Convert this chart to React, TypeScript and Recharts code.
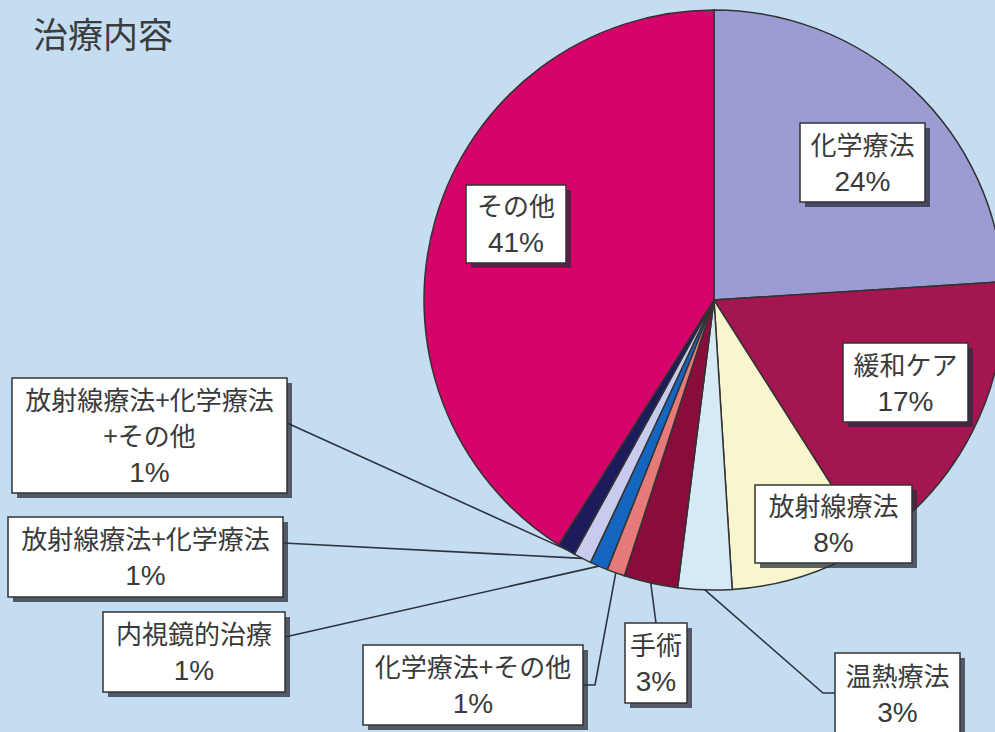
import { PieChart, Pie, Cell } from "recharts";

const names = [
  "化学療法",
  "緩和ケア",
  "放射線療法",
  "温熱療法",
  "手術",
  "化学療法+その他",
  "内視鏡的治療",
  "放射線療法+化学療法",
  "放射線療法+化学療法+その他",
  "その他",
];
const values = [24, 17, 8, 3, 3, 1, 1, 1, 1, 41];
const colors = [
  "#9a9cd3",
  "#a3164f",
  "#f8f6cf",
  "#d6eaf6",
  "#8a0c3d",
  "#e67a78",
  "#1466c0",
  "#c9cbee",
  "#1c1c5c",
  "#d6046a",
];

// label boxes: where each box sits and how its leader runs (page px)
const boxes = [
  { x: 800, y: 123, w: 125, h: 79, split: 0, leader: [] as number[][] },
  { x: 843, y: 343, w: 125, h: 79, split: 0, leader: [] },
  { x: 755, y: 485, w: 157, h: 78, split: 0, leader: [] },
  { x: 835, y: 653, w: 125, h: 82, split: 0, leader: [[823, 693], [835, 693]] },
  { x: 625, y: 623, w: 62, h: 80, split: 0, leader: [[656, 623]] },
  { x: 363, y: 645, w: 220, h: 80, split: 0, leader: [[595, 685], [583, 685]] },
  { x: 103, y: 612, w: 182, h: 80, split: 0, leader: [[285, 637]] },
  { x: 8, y: 517, w: 275, h: 80, split: 0, leader: [[283, 543]] },
  { x: 12, y: 378, w: 275, h: 115, split: 10, leader: [[287, 423]] },
  { x: 466, y: 185, w: 100, h: 78, split: 0, leader: [] },
];

const data = names.map((name, i) => ({ name, value: values[i] }));

const RADIAN = Math.PI / 180;
const FONT = "'Noto Sans CJK JP', 'Noto Sans', sans-serif";
const NUM_FONT = "'Liberation Sans', 'Noto Sans CJK JP', sans-serif";

function renderLabel(props: any) {
  const { cx, cy, midAngle, outerRadius, index } = props;
  const b = boxes[index];
  const name = names[index];
  const lines =
    b.split > 0 ? [name.slice(0, b.split), name.slice(b.split), `${values[index]}%`] : [name, `${values[index]}%`];
  const ax = cx + outerRadius * Math.cos(-midAngle * RADIAN);
  const ay = cy + outerRadius * Math.sin(-midAngle * RADIAN);
  const pts = b.leader.length ? [[ax, ay], ...b.leader] : [];
  const first = b.y + (b.h - lines.length * 36) / 2 + 28;
  return (
    <g key={`lab-${index}`}>
      {pts.length > 0 && (
        <polyline
          points={pts.map((p) => p.join(",")).join(" ")}
          fill="none"
          stroke="#2c3440"
          strokeWidth={1.6}
        />
      )}
      <rect x={b.x + 5} y={b.y + 5} width={b.w} height={b.h} fill="#2a2d3c" opacity={0.75} />
      <rect x={b.x} y={b.y} width={b.w} height={b.h} fill="#ffffff" stroke="#333" strokeWidth={1.5} />
      {lines.map((t, k) => {
        const isPct = k === lines.length - 1;
        return (
          <text
            key={k}
            x={b.x + b.w / 2}
            y={first + k * 36}
            textAnchor="middle"
            fontFamily={isPct ? NUM_FONT : FONT}
            fontSize={isPct ? 28 : 26}
            fill="#3a3a3a"
          >
            {t}
          </text>
        );
      })}
    </g>
  );
}

export default function App() {
  return (
    <div style={{ position: "absolute", left: 0, top: 0, width: 995, height: 732, background: "#c4ddf0", overflow: "hidden" }}>
      <div style={{ position: "absolute", left: 33, top: 10, fontFamily: FONT, fontSize: 35, color: "#3c3c3c", lineHeight: "46px" }}>
        治療内容
      </div>
      <PieChart width={995} height={732} margin={{ top: 0, right: 0, bottom: 0, left: 0 }}>
        <Pie
          data={data}
          dataKey="value"
          nameKey="name"
          cx={714}
          cy={300}
          outerRadius={290}
          startAngle={90}
          endAngle={-270}
          stroke="#333"
          strokeWidth={1.5}
          label={renderLabel}
          labelLine={false}
          isAnimationActive={false}
        >
          {data.map((d, i) => (
            <Cell key={d.name} fill={colors[i]} />
          ))}
        </Pie>
      </PieChart>
    </div>
  );
}
